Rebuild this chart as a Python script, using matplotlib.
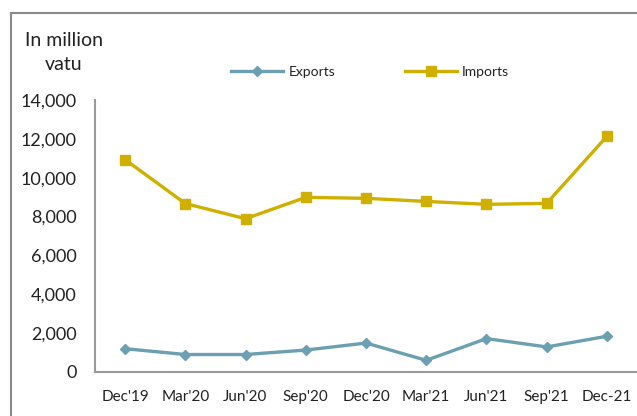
import matplotlib.pyplot as plt
from matplotlib.lines import Line2D

quarters = ["Dec'19", "Mar'20", "Jun'20", "Sep'20", "Dec'20", "Mar'21", "Jun'21", "Sep'21", "Dec-21"]
exports = [1200, 900, 900, 1130, 1490, 600, 1720, 1290, 1840]
imports = [10930, 8670, 7890, 8990, 8940, 8780, 8630, 8680, 12130]

plt.rcParams['font.family'] = ['Lato', 'DejaVu Sans']

fig = plt.figure(figsize=(6.37, 4.16), dpi=100)
ax = fig.add_axes([95/637, 44/416, 1 - 95/637, 272/416])

x = range(len(quarters))
ax.plot(x, exports, color='#6b9fb1', lw=2.4, marker='D', ms=5.5, label='Exports')
ax.plot(x, imports, color='#cfb000', lw=2.4, marker='s', ms=6.5, label='Imports')

ax.set_xlim(-0.5, len(quarters) - 0.5)
ax.set_ylim(0, 14000)
ax.set_yticks(range(0, 14001, 2000))
ax.set_yticklabels([f"{v:,}" for v in range(0, 14001, 2000)], fontsize=13, color='#222222')
ax.set_xticks(list(x))
ax.set_xticklabels(quarters, fontsize=11, color='#222222')
ax.tick_params(axis='y', length=0, pad=13)
ax.tick_params(axis='x', length=0, pad=13)

for s in ['top', 'right']:
    ax.spines[s].set_visible(False)
for s in ['left', 'bottom']:
    ax.spines[s].set_color('#9a9a9a')
    ax.spines[s].set_linewidth(1.5)

leg = fig.legend(loc='center', bbox_to_anchor=(370/637, 1 - 72/416), ncol=2, frameon=False,
                 fontsize=10, handlelength=3.8, columnspacing=5.0, handletextpad=0.35)
for t in leg.get_texts():
    t.set_color('#222222')

fig.text(64/637, 1 - 53/416, "In million\nvatu", ha='center', va='center', fontsize=14,
         linespacing=1.5, color='#222222')

# outer chart border (cropped on the right and bottom)
fig.add_artist(Line2D([11/637, 1], [1 - 13/416, 1 - 13/416], color='#8a8a8a', lw=1.5,
                      transform=fig.transFigure))
fig.add_artist(Line2D([11/637, 11/637], [0, 1 - 13/416], color='#8a8a8a', lw=1.5,
                      transform=fig.transFigure))

fig.savefig("out.png", dpi=100)
